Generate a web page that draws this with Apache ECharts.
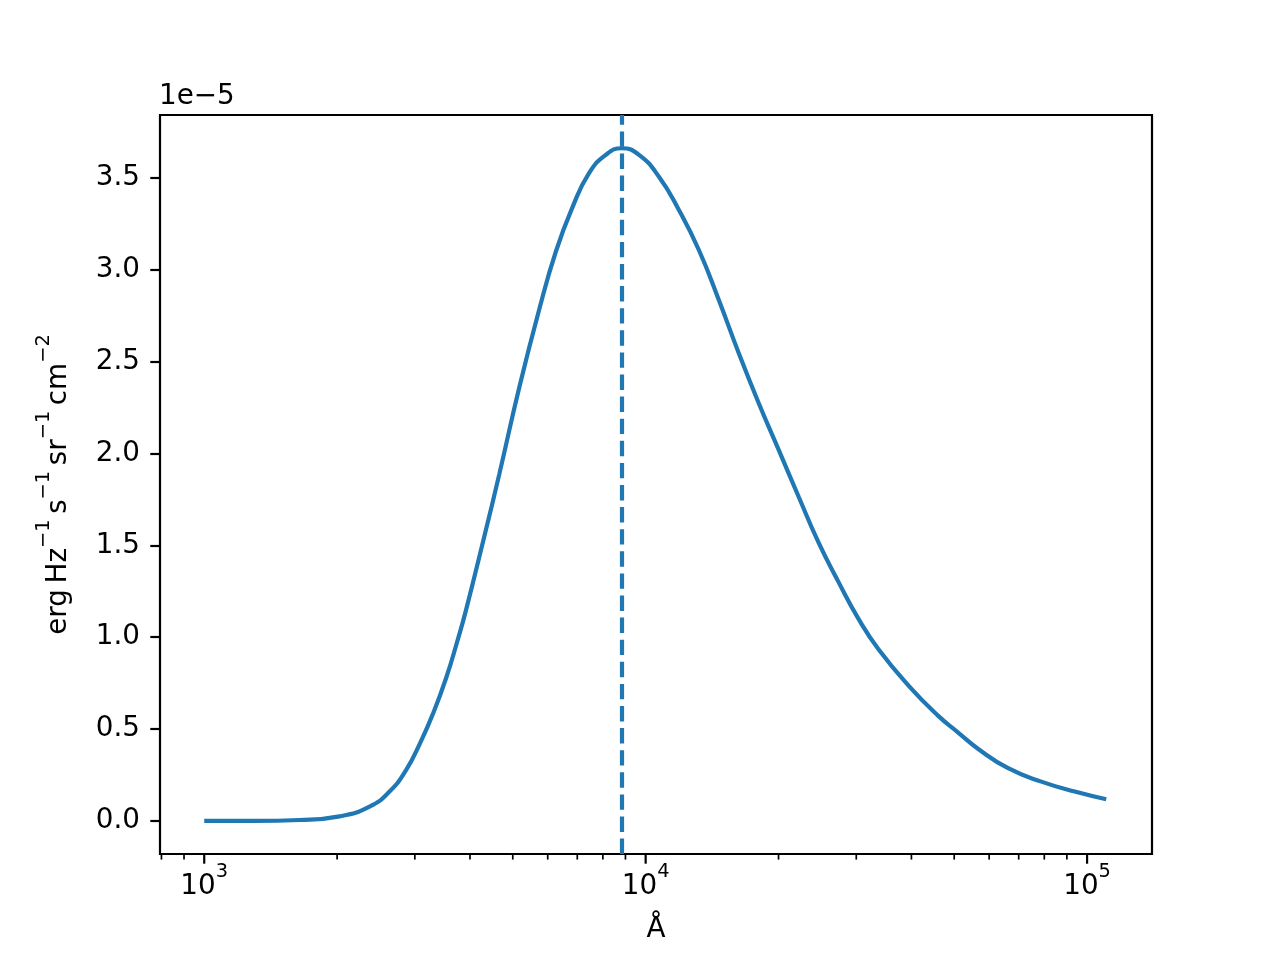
<!DOCTYPE html>
<html>
<head>
<meta charset="utf-8">
<script src="https://cdn.jsdelivr.net/npm/echarts@6/dist/echarts.min.js"></script>
<style>
  html, body { margin: 0; padding: 0; background: #fff; }
  #chart { width: 1280px; height: 960px; }
</style>
</head>
<body>
<div id="chart"></div>
<script>
// wavelength in Angstrom
const wavelength = [1000, 1300, 1646, 2026, 2369, 2629, 2868, 3078, 3293, 3532, 3751, 3919,
  4311, 4661, 5172, 5740, 6261, 6825, 7443, 8121, 8828, 9659, 10718, 11894, 13199, 14647,
  16255, 18038, 20017, 22213, 24650, 27354, 30355, 33685, 39540, 46010, 50890,
  56688, 66254, 78775, 93765, 110500];
// flux in units of 1e-5 erg Hz^-1 s^-1 sr^-1 cm^-2
const flux = [0, 0, 0.005, 0.025, 0.078, 0.16, 0.278, 0.42, 0.58, 0.778, 0.985, 1.149,
  1.55, 1.888, 2.36, 2.785, 3.1, 3.34, 3.526, 3.626, 3.662, 3.626, 3.507, 3.326, 3.108, 2.836,
  2.546, 2.274, 2.02, 1.765, 1.515, 1.30, 1.10, 0.935, 0.733, 0.572, 0.484,
  0.392, 0.287, 0.214, 0.16, 0.118];
const peakWavelength = 8828;

const xMajorTicks = [1000, 10000, 100000];
const xMinorTicks = [800, 900, 2000, 3000, 4000, 5000, 6000, 7000, 8000, 9000,
  20000, 30000, 40000, 50000, 60000, 70000, 80000, 90000];
const yTicks = [0, 0.5, 1.0, 1.5, 2.0, 2.5, 3.0, 3.5];

const xMin = 794, xMax = 140300;
const yMin = -0.18, yMax = 3.843;

const blue = '#1f77b4';
const font = 'DejaVu Sans';

const chart = echarts.init(document.getElementById('chart'));

// normal text + raised superscript, like mathtext
const supRich = {
  n: { fontFamily: font, fontSize: 27.8, lineHeight: 50, color: '#000' },
  s: { fontFamily: font, fontSize: 19.4, lineHeight: 20, verticalAlign: 'top', color: '#000' }
};

chart.setOption({
  animation: false,
  backgroundColor: '#fff',
  grid: {
    left: 160, right: 128, top: 115, bottom: 106,
    show: true, borderColor: '#000', borderWidth: 2.2,
    containLabel: false, outerBoundsMode: 'none'
  },
  graphic: [{
    type: 'text', x: 159, y: 97,
    style: { text: '1e\u22125', font: '27.8px "DejaVu Sans"', fill: '#000', verticalAlign: 'middle' }
  }],
  xAxis: {
    type: 'log', logBase: 10, min: xMin, max: xMax,
    name: '\u00c5', nameLocation: 'middle', nameGap: 62,
    nameTextStyle: { fontFamily: font, fontSize: 27.8, color: '#000' },
    axisLine: { show: false },
    axisTick: { show: false },
    axisLabel: { show: false },
    splitLine: { show: false },
    minorTick: { show: false }
  },
  yAxis: {
    type: 'value', min: yMin, max: yMax,
    name: '{n|erg\u2009Hz}{s|\u22121}{n|\u2009s}{s|\u22121}{n|\u2009sr}{s|\u22121}{n|\u2009cm}{s|\u22122}',
    nameLocation: 'middle', nameGap: 76, nameRotate: 90,
    nameTextStyle: { rich: supRich },
    axisLine: { show: false },
    axisTick: { show: true, length: 9.7, customValues: yTicks, lineStyle: { color: '#000', width: 2.2 } },
    axisLabel: {
      customValues: yTicks, margin: 20, fontFamily: font, fontSize: 27.8, color: '#000',
      formatter: v => v.toFixed(1)
    },
    splitLine: { show: false }
  },
  series: [
    {
      type: 'line',
      data: wavelength.map((w, i) => [w, flux[i]]),
      showSymbol: false,
      smooth: 0.5,
      lineStyle: { color: blue, width: 4.2 },
      itemStyle: { color: blue },
      silent: true,
      markLine: {
        silent: true,
        symbol: ['none', 'none'],
        label: { show: false },
        lineStyle: { color: blue, width: 4.2, type: [15.4, 6.7] },
        data: [{ xAxis: peakWavelength }]
      }
    },
    {
      // minor ticks on the log axis
      type: 'custom', silent: true,
      data: xMinorTicks.map(v => [v, yMin]),
      renderItem: (params, api) => {
        const p = api.coord([api.value(0), api.value(1)]);
        return {
          type: 'line',
          shape: { x1: p[0], y1: p[1], x2: p[0], y2: p[1] + 5.6 },
          style: { stroke: '#000', lineWidth: 1.7 }
        };
      }
    },
    {
      // major ticks and 10^n labels
      type: 'custom', silent: true,
      data: xMajorTicks.map(v => [v, yMin]),
      renderItem: (params, api) => {
        const v = api.value(0);
        const p = api.coord([v, api.value(1)]);
        const exp = Math.round(Math.log10(v));
        return {
          type: 'group',
          children: [
            {
              type: 'line',
              shape: { x1: p[0], y1: p[1], x2: p[0], y2: p[1] + 9.7 },
              style: { stroke: '#000', lineWidth: 2.2 }
            },
            {
              type: 'text', x: p[0], y: p[1] + 8,
              style: {
                text: '{n|10}{s|' + exp + '}',
                rich: supRich,
                align: 'center', verticalAlign: 'top'
              }
            }
          ]
        };
      }
    }
  ]
});
</script>
</body>
</html>
